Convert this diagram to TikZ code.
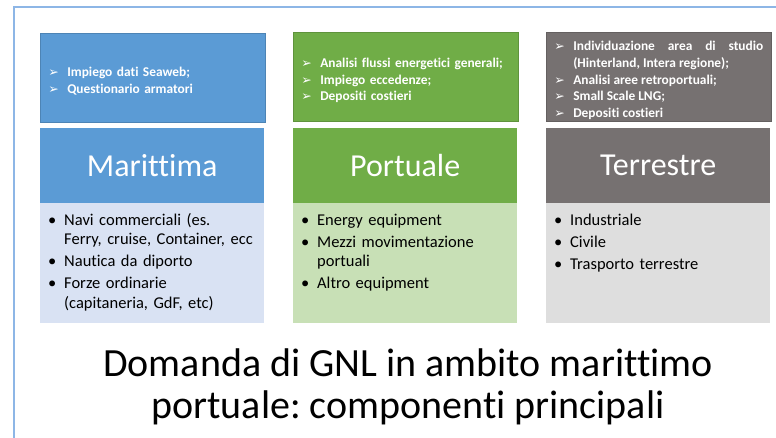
\documentclass[tikz,border=0pt]{standalone}
\usepackage{fontspec}
\setmainfont{Carlito}[Ligatures=NoCommon]
\newfontfamily\symfont{DejaVu Sans}
\definecolor{mblue}{HTML}{5B9BD5}
\definecolor{mbluel}{HTML}{D9E2F3}
\definecolor{pgreen}{HTML}{70AD47}
\definecolor{pgreenl}{HTML}{C8E0B6}
\definecolor{tgray}{HTML}{767171}
\definecolor{tgrayl}{HTML}{DEDEDE}
\definecolor{framecol}{HTML}{8DB6E6}
\hyphenpenalty=10000
\exhyphenpenalty=10000
\frenchspacing
\newcommand{\arritem}[1]{\par\noindent\hangindent=19pt\hangafter=1\makebox[19pt][l]{\symfont\fontsize{12.5}{12.5}\selectfont ➢}#1}
\newcommand{\dotitem}[1]{\par\noindent\hangindent=17pt\hangafter=1\makebox[17pt][l]{\hspace*{1pt}•}#1}
\newcommand{\brk}{\hfil\break}
\tikzset{
  topbox/.style={anchor=north west, minimum width=224pt, minimum height=89pt,
    text width=209pt, inner xsep=8pt, inner ysep=0pt, text=white,
    font=\bfseries\fontsize{13.4}{16.8}\selectfont, line width=0.6pt},
  headbox/.style={anchor=north west, minimum width=224pt, minimum height=75pt,
    inner sep=0pt, text=white, font=\fontsize{32}{32}\selectfont},
  bodybox/.style={anchor=north west, minimum width=224pt, minimum height=120pt, inner sep=0pt},
  bodytext/.style={anchor=north west, text width=215pt, inner sep=0pt,
    font=\fontsize{16.5}{19.5}\selectfont, text=black},
}
\begin{document}
\begin{tikzpicture}[x=1pt,y=-1pt]
\useasboundingbox (0,0) rectangle (776,438);
\fill[white] (0,0) rectangle (776,438);
\draw[framecol, line width=1.6pt] (776,7) -- (14,7) -- (14,438);

% Marittima
\node[topbox, fill=mblue, draw=mblue!85!black] (mtop) at (40,33)
  {\raggedright\arritem{Impiego dati Seaweb;}\arritem{Questionario armatori}\par};
\node[headbox, fill=mblue] (mhead) at (40,128) {Marittima};
\node[bodybox, fill=mbluel] (mbody) at (40,203) {};
\node[bodytext] (mtext) at (47,203)
  {\raggedright\parskip=2.5pt
   \dotitem{Navi commerciali (es.\brk Ferry, cruise, Container, ecc}
   \dotitem{Nautica da diporto}
   \dotitem{Forze ordinarie\brk (capitaneria, GdF, etc)}\par};

% Portuale
\node[topbox, fill=pgreen, draw=pgreen!85!black] (ptop) at (293,32)
  {\raggedright\arritem{Analisi flussi energetici generali;}\arritem{Impiego eccedenze;}\arritem{Depositi costieri}\par};
\node[headbox, fill=pgreen] (phead) at (293,128) {Portuale};
\node[bodybox, fill=pgreenl] (pbody) at (293,203) {};
\node[bodytext] (ptext) at (300,203)
  {\raggedright\parskip=2.5pt
   \dotitem{Energy equipment}
   \dotitem{Mezzi movimentazione\brk portuali}
   \dotitem{Altro equipment}\par};

% Terrestre
\node[topbox, fill=tgray, draw=tgray!85!black, align=justify] (ttop) at (546,32)
  {\arritem{Individuazione area di studio (Hinterland, Intera regione);}\arritem{Analisi aree retroportuali;}\arritem{Small Scale LNG;}\arritem{Depositi costieri}\par};
\node[headbox, fill=tgray] (thead) at (546,128) {Terrestre};
\node[bodybox, fill=tgrayl] (tbody) at (546,203) {};
\node[bodytext] (ttext) at (553,203)
  {\raggedright\parskip=2.5pt
   \dotitem{Industriale}
   \dotitem{Civile}
   \dotitem{Trasporto terrestre}\par};

% Title
\node[align=center, font=\fontsize{40}{42}\selectfont, inner sep=0pt] (title) at (408,387)
  {Domanda di GNL in ambito marittimo\\ portuale: componenti principali};
\end{tikzpicture}
\end{document}
